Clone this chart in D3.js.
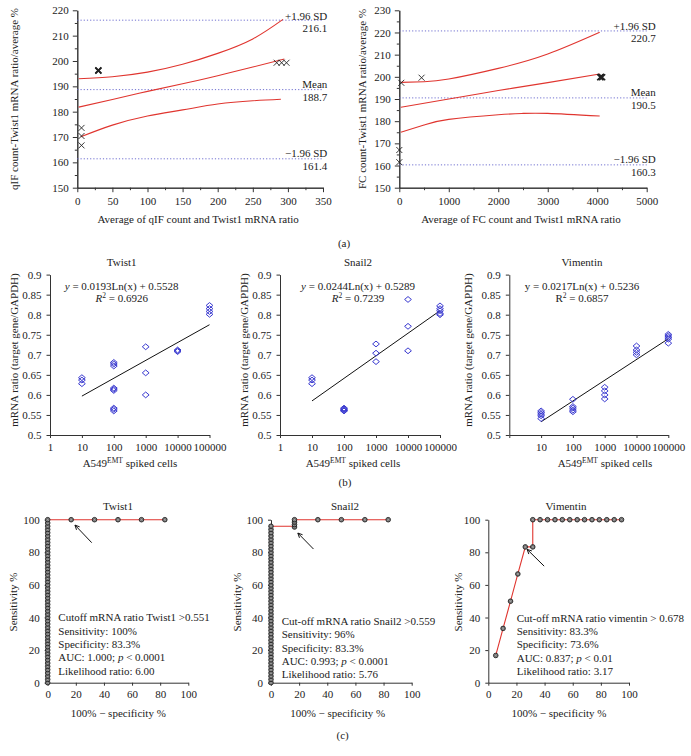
<!DOCTYPE html>
<html><head><meta charset="utf-8">
<script src="https://cdn.jsdelivr.net/npm/d3@7"></script>
<style>body{margin:0;background:#fff}svg{display:block}</style>
</head><body>
<script>
// ---------- DATA ----------
// Panel (a) left: Bland-Altman qIF
const aLX_ticks = [0,50,100,150,200,250,300,350];
const aLY_ticks = [150,160,170,180,190,200,210,220];
const aLUpperX = [2,50,100,150,200,250,293];
const aLUpperY = [193.0,193.8,195.6,198.7,203.0,208.7,216.4];
const aLMidX = [2,50,100,150,200,250,295];
const aLMidY = [181.8,184.8,188.0,191.0,194.2,197.6,200.8];
const aLLowX = [5,50,100,150,200,250,290];
const aLLowY = [170.1,174.7,178.3,180.7,183.0,184.3,184.9];
const aLPtsX = [6,6,6,30,30,284,291,298];
const aLPtsY = [173.6,170.4,166.7,196.2,196.3,199.3,199.3,199.3];
const aLRefVals = [216.1,188.7,161.4];
const aLRefNames = ["+1.96 SD","Mean","\u22121.96 SD"];
// Panel (a) right: Bland-Altman FC
const aRX_ticks = [0,1000,2000,3000,4000,5000];
const aRY_ticks = [150,160,170,180,190,200,210,220,230];
const aRUpperX = [30,500,1000,2000,3000,4050];
const aRUpperY = [197.5,197.8,199.0,203.8,210.3,220.1];
const aRMidX = [30,1000,2000,3000,4050];
const aRMidY = [186.3,190.0,193.8,197.4,201.3];
const aRLowX = [30,500,1000,2000,2500,3000,4050];
const aRLowY = [175.0,178.3,180.8,182.9,183.5,183.5,182.3];
const aRPtsX = [40,450,0,0,4060,4080,4100];
const aRPtsY = [197.3,199.6,167.0,161.5,199.8,200.0,199.8];
const aRRefVals = [220.7,190.5,160.3];
// Panel (b): qPCR vs spiked cells
const bTitles = ["Twist1","Snail2","Vimentin"];
const bEq = ["0.0193Ln(x) + 0.5528","0.0244Ln(x) + 0.5289","0.0217Ln(x) + 0.5236"];
const bR2 = ["0.6926","0.7239","0.6857"];
const bXTicks = [1,10,100,1000,10000,100000];
const bYTicks = [0.5,0.55,0.6,0.65,0.7,0.75,0.8,0.85,0.9];
const twistX = [10,10,10,100,100,100,100,100,100,100,100,100,1000,1000,1000,10000,10000,10000,100000,100000,100000,100000];
const twistY = [0.643,0.637,0.628,0.681,0.677,0.672,0.617,0.614,0.611,0.567,0.564,0.560,0.720,0.655,0.600,0.712,0.710,0.708,0.823,0.815,0.808,0.801];
const snailX = [10,10,10,100,100,100,100,100,1000,1000,1000,10000,10000,10000,100000,100000,100000,100000,100000];
const snailY = [0.643,0.637,0.628,0.567,0.565,0.563,0.561,0.560,0.727,0.704,0.683,0.838,0.771,0.710,0.822,0.815,0.810,0.803,0.800];
const vimX = [10,10,10,10,10,100,100,100,100,100,1000,1000,1000,1000,10000,10000,10000,10000,100000,100000,100000,100000,100000];
const vimY = [0.560,0.556,0.552,0.548,0.541,0.589,0.571,0.567,0.562,0.558,0.619,0.610,0.600,0.590,0.722,0.712,0.706,0.700,0.751,0.747,0.743,0.739,0.729];
const fitX = [10,100000];
const twistFitY = [0.597,0.775];
const snailFitY = [0.585,0.810];
const vimFitY = [0.533,0.740];
// Panel (c): ROC curves
const cTicks = [0,20,40,60,80,100];
const rocTwX = [0,0,0,0,0,0,0,0,0,0,0,0,0,0,0,0,0,0,0,0,0,0,0,0,0,0,0,0,0,0,0,0,0,0,0,0,0,0,0,0,0,0,0,0,0,0,0,0,0,0,0,16.7,33.3,50,66.7,83.3];
const rocTwY = [0,2,4,6,8,10,12,14,16,18,20,22,24,26,28,30,32,34,36,38,40,42,44,46,48,50,52,54,56,58,60,62,64,66,68,70,72,74,76,78,80,82,84,86,88,90,92,94,96,98,100,100,100,100,100,100];
const rocTwLineX = [0,0,83.3];
const rocTwLineY = [0,100,100];
const rocSnX = [0,0,0,0,0,0,0,0,0,0,0,0,0,0,0,0,0,0,0,0,0,0,0,0,0,0,0,0,0,0,0,0,0,0,0,0,0,0,0,0,0,0,0,0,0,0,0,0,0,16.7,16.7,16.7,16.7,33.3,50,66.7,83.3];
const rocSnY = [0,2,4,6,8,10,12,14,16,18,20,22,24,26,28,30,32,34,36,38,40,42,44,46,48,50,52,54,56,58,60,62,64,66,68,70,72,74,76,78,80,82,84,86,88,90,92,94,96,95.5,97,98.5,100,100,100,100,100];
const rocSnLineX = [0,0,16.7,16.7,83.3];
const rocSnLineY = [0,96,96,100,100];
const rocViX = [5.3,10.5,15.8,21.0,26.3,31.6,31.6,36.8,42.1,47.4,52.6,57.9,63.2,68.4,73.7,78.9,84.2,89.5,94.7];
const rocViY = [16.7,33.3,50,66.7,83.3,83.3,100,100,100,100,100,100,100,100,100,100,100,100,100];
const rocViLineX = [5.3,10.5,15.8,21.0,26.3,31.6,31.6,94.7];
const rocViLineY = [16.7,33.3,50,66.7,83.3,83.3,100,100];
const cTexts = [
  ["Cutoff mRNA ratio Twist1 >0.551","Sensitivity: 100%","Specificity: 83.3%","AUC: 1.000; |p| < 0.0001","Likelihood ratio: 6.00"],
  ["Cut-off mRNA ratio Snail2 >0.559","Sensitivity: 96%","Specificity: 83.3%","AUC: 0.993; |p| < 0.0001","Likelihood ratio: 5.76"],
  ["Cut-off mRNA ratio vimentin > 0.678","Sensitivity: 83.3%","Specificity: 73.6%","AUC: 0.837; |p| < 0.01","Likelihood ratio: 3.17"]
];
// arrows [x0,y0,x1,y1] in data units (tail -> head)
const arrowTw = [31.3,85.9,19.4,96.7];
const arrowSn = [30.2,82.0,19.1,91.8];
const arrowVi = [39.7,71.5,27.6,81.8];

// ---------- DRAW ----------
const FONT = "'Liberation Serif','Times New Roman',serif";
const TXT = "#222";
const svg = d3.select("body").append("svg").attr("width",691).attr("height",756)
  .attr("font-family",FONT).attr("font-size",11).attr("fill",TXT);

function styleAxis(g){
  g.selectAll("text").attr("font-family",FONT).attr("font-size",11).attr("fill",TXT);
  g.selectAll("path,line").attr("stroke","#333").attr("stroke-width",1);
}
function text(x,y,s,anchor){
  return svg.append("text").attr("x",x).attr("y",y).attr("text-anchor",anchor||"middle").text(s);
}
function vtext(x,y,s){
  return svg.append("text").attr("transform",`translate(${x},${y}) rotate(-90)`).attr("text-anchor","middle").text(s);
}

// ----- Panel (a) -----
function blandAltman(cfg){
  const x = d3.scaleLinear().domain(cfg.xd).range(cfg.xr);
  const y = d3.scaleLinear().domain(cfg.yd).range([187.7,10.3]);
  svg.append("g").attr("transform",`translate(0,${y.range()[0]})`)
    .call(d3.axisBottom(x).tickValues(cfg.xMinor).tickSize(2.5).tickSizeOuter(0).tickFormat(""))
    .call(styleAxis);
  svg.append("g").attr("transform",`translate(${x.range()[0]},0)`)
    .call(d3.axisLeft(y).tickValues(cfg.yMinor).tickSize(2.5).tickSizeOuter(0).tickFormat(""))
    .call(styleAxis);
  svg.append("g").attr("transform",`translate(0,${y.range()[0]})`)
    .call(d3.axisBottom(x).tickValues(cfg.xTicks).tickSize(4.5).tickSizeOuter(0).tickPadding(5).tickFormat(d3.format("d")))
    .call(styleAxis);
  svg.append("g").attr("transform",`translate(${x.range()[0]},0)`)
    .call(d3.axisLeft(y).tickValues(cfg.yTicks).tickSize(4.5).tickSizeOuter(0).tickPadding(4).tickFormat(d3.format("d")))
    .call(styleAxis);
  cfg.refs.forEach((v,i)=>{
    svg.append("line").attr("x1",x.range()[0]).attr("x2",x.range()[1])
      .attr("y1",y(v)).attr("y2",y(v)).attr("stroke","#6f6fd0").attr("stroke-width",1)
      .attr("stroke-dasharray","1.2,2");
    text(cfg.labX,cfg.labY[i][0],aLRefNames[i],"end");
    text(cfg.labX,cfg.labY[i][1],v.toFixed(1),"end");
  });
  const line = d3.line().curve(d3.curveNatural);
  [[cfg.uX,cfg.uY],[cfg.mX,cfg.mY],[cfg.lX,cfg.lY]].forEach(([xs,ys])=>{
    svg.append("path").attr("d",line(xs.map((d,i)=>[x(d),y(ys[i])])))
      .attr("fill","none").attr("stroke","#e0352f").attr("stroke-width",1.1);
  });
  cfg.pX.forEach((d,i)=>{
    svg.append("path").attr("transform",`translate(${x(d)},${y(cfg.pY[i])})`)
      .attr("d","M-3,-3L3,3M-3,3L3,-3").attr("stroke","#222").attr("stroke-width",cfg.bold.includes(i)?1.6:0.9);
  });
  vtext(cfg.yLabX,99,cfg.yLabel);
  text((cfg.xr[0]+cfg.xr[1])/2-2,223,cfg.xLabel);
}
blandAltman({xd:[0,350],xr:[77.3,323],yd:[150,220],xTicks:aLX_ticks,yTicks:aLY_ticks,
  xMinor:[25,75,125,175,225,275,325],yMinor:[155,165,175,185,195,205,215],
  refs:aLRefVals,labX:327.3,labY:[[19.7,32],[87.7,100.7],[156.7,169.7]],
  uX:aLUpperX,uY:aLUpperY,mX:aLMidX,mY:aLMidY,lX:aLLowX,lY:aLLowY,pX:aLPtsX,pY:aLPtsY,bold:[3,4],
  yLabX:17.5,yLabel:"qIF count-Twist1 mRNA ratio/average %",xLabel:"Average of qIF count and Twist1 mRNA ratio"});
blandAltman({xd:[0,5000],xr:[399.3,646.7],yd:[150,230],xTicks:aRX_ticks,yTicks:aRY_ticks,
  xMinor:[500,1500,2500,3500,4500],yMinor:[155,165,175,185,195,205,215,225],
  refs:aRRefVals,labX:655.7,labY:[[29.7,42.3],[96.3,109.3],[163,175.7]],
  uX:aRUpperX,uY:aRUpperY,mX:aRMidX,mY:aRMidY,lX:aRLowX,lY:aRLowY,pX:aRPtsX,pY:aRPtsY,bold:[4,5,6],
  yLabX:365.5,yLabel:"FC count-Twist1 mRNA ratio/average %",xLabel:"Average of FC count and Twist1 mRNA ratio"});
text(344,247,"(a)");

// ----- Panel (b) -----
function scatterPanel(i,xr,xs,ys,fitY,opts){
  const x = d3.scaleLog().domain([1,100000]).range(xr);
  const y = d3.scaleLinear().domain([0.5,0.9]).range([435,274.6]);
  svg.append("g").attr("transform","translate(0,435)")
    .call(d3.axisBottom(x).tickValues(bXTicks).tickSize(3).tickSizeOuter(0).tickPadding(5)
      .tickFormat(d=> (opts.skip1 && d===1) ? "" : d3.format("d")(d)))
    .call(styleAxis);
  svg.append("g").attr("transform",`translate(${xr[0]},0)`)
    .call(d3.axisLeft(y).tickValues(bYTicks).tickSize(3.5).tickSizeOuter(0).tickPadding(5)
      .tickFormat(d=>String(+d.toFixed(2))))
    .call(styleAxis);
  svg.append("line").attr("x1",x(fitX[0])).attr("y1",y(fitY[0])).attr("x2",x(fitX[1])).attr("y2",y(fitY[1]))
    .attr("stroke","#111").attr("stroke-width",1);
  xs.forEach((d,k)=>{
    svg.append("path").attr("transform",`translate(${x(d)},${y(ys[k])})`)
      .attr("d","M-3.4,0L0,-2.9L3.4,0L0,2.9Z").attr("fill","none").attr("stroke","#3a3ad0").attr("stroke-width",1);
  });
  text(opts.tx,266,bTitles[i]);
  const eq = svg.append("text").attr("x",opts.tx).attr("y",289.7).attr("text-anchor","middle");
  eq.append("tspan").attr("font-style",opts.italic?"italic":"normal").text("y");
  eq.append("tspan").text(" = "+bEq[i]);
  const r = svg.append("text").attr("x",opts.tx).attr("y",302).attr("text-anchor","middle");
  r.append("tspan").attr("font-style",opts.italic?"italic":"normal").text("R");
  r.append("tspan").attr("font-size",7.5).attr("dy",-4).text("2");
  r.append("tspan").attr("dy",4).text(" = "+bR2[i]);
  vtext(opts.yl,350,"mRNA ratio (target gene/GAPDH)");
  const xl = svg.append("text").attr("x",opts.xl).attr("y",467).attr("text-anchor","middle");
  xl.append("tspan").text("A549");
  xl.append("tspan").attr("font-size",7.5).attr("dy",-4).text("EMT");
  xl.append("tspan").attr("dy",4).text(" spiked cells");
}
scatterPanel(0,[50,209.5],twistX,twistY,twistFitY,{tx:121.7,yl:18,xl:130,italic:true});
scatterPanel(1,[280,440],snailX,snailY,snailFitY,{tx:358,yl:248,xl:353,italic:true});
scatterPanel(2,[509.3,668.3],vimX,vimY,vimFitY,{tx:582,yl:472,xl:605,italic:false,skip1:true});
text(345,485.7,"(b)");

// ----- Panel (c) -----
function rocPanel(i,xr,px,py,lx,ly,arrow,o){
  const x = d3.scaleLinear().domain([0,100]).range(xr);
  const y = d3.scaleLinear().domain([0,100]).range([682.7,519.7]);
  svg.append("g").attr("transform","translate(0,682.7)")
    .call(d3.axisBottom(x).tickValues(cTicks).tickSize(3).tickSizeOuter(0).tickPadding(5))
    .call(styleAxis);
  svg.append("g").attr("transform",`translate(${xr[0]},0)`)
    .call(d3.axisLeft(y).tickValues(cTicks).tickSize(3).tickSizeOuter(0).tickPadding(5))
    .call(styleAxis);
  svg.append("path").attr("d",d3.line()(lx.map((d,k)=>[x(d),y(ly[k])])))
    .attr("fill","none").attr("stroke","#e0352f").attr("stroke-width",1.1);
  px.forEach((d,k)=>{
    const cx=x(d), cy=y(py[k]);
    svg.append("circle").attr("cx",cx).attr("cy",cy).attr("r",2.3)
      .attr("fill","#6e6e6e").attr("stroke","#222").attr("stroke-width",0.9);
    svg.append("path").attr("d",`M${cx-1.2},${cy-1.2}L${cx+1.2},${cy+1.2}M${cx-1.2},${cy+1.2}L${cx+1.2},${cy-1.2}`)
      .attr("stroke","#bbb").attr("stroke-width",0.6);
  });
  const x0=x(arrow[0]),y0=y(arrow[1]),x1=x(arrow[2]),y1=y(arrow[3]);
  svg.append("line").attr("x1",x0).attr("y1",y0).attr("x2",x1).attr("y2",y1).attr("stroke","#111").attr("stroke-width",1);
  const ang=Math.atan2(y1-y0,x1-x0);
  const hl=5, hw=0.45;
  svg.append("path").attr("d",`M${x1+hl*Math.cos(ang+Math.PI-hw)},${y1+hl*Math.sin(ang+Math.PI-hw)}L${x1},${y1}L${x1+hl*Math.cos(ang+Math.PI+hw)},${y1+hl*Math.sin(ang+Math.PI+hw)}`)
    .attr("fill","none").attr("stroke","#111").attr("stroke-width",1);
  text(o.tx,510,bTitles[i]);
  cTexts[i].forEach((s,k)=>{
    const t = svg.append("text").attr("x",o.bx).attr("y",o.by+k*13.3);
    if(s.includes("|p|")){
      const parts=s.split("|p|");
      t.append("tspan").text(parts[0]);
      t.append("tspan").attr("font-style","italic").text("p");
      t.append("tspan").text(parts[1]);
    } else t.text(s);
  });
  vtext(o.yl,602,"Sensitivity %");
  text(o.xl,716.5,"100% \u2212 specificity %");
}
rocPanel(0,[47.7,188.3],rocTwX,rocTwY,rocTwLineX,rocTwLineY,arrowTw,{tx:118,bx:58.3,by:621.3,yl:17,xl:118.3});
rocPanel(1,[271,411.7],rocSnX,rocSnY,rocSnLineX,rocSnLineY,arrowSn,{tx:345,bx:281.7,by:625,yl:241,xl:337.7});
rocPanel(2,[488.3,629],rocViX,rocViY,rocViLineX,rocViLineY,arrowVi,{tx:566,bx:516.7,by:621.7,yl:461.5,xl:559});
text(342.7,739,"(c)");
</script>
</body></html>
